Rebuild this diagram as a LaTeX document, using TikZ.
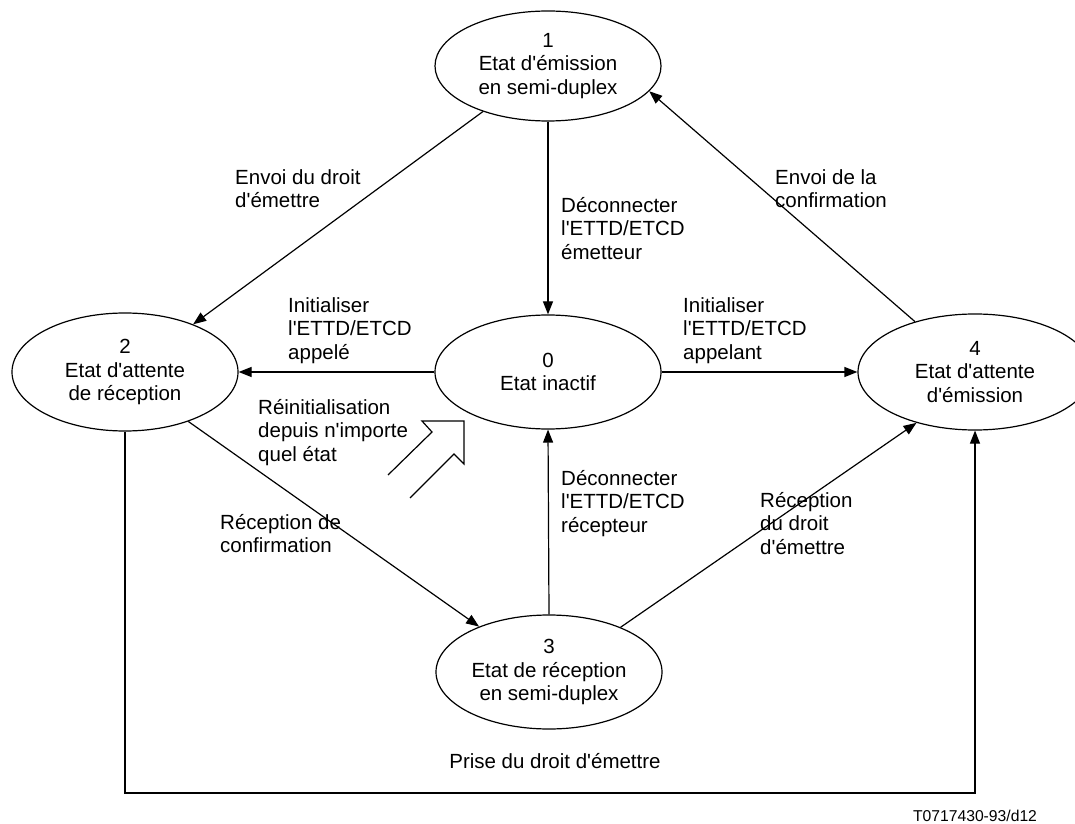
\documentclass[tikz,border=0pt]{standalone}
\usepackage{fontspec}
\setmainfont{Liberation Sans}[Ligatures=TeXOff]
\usetikzlibrary{arrows.meta,shapes.geometric}
\newcommand{\lblfont}{\fontsize{20.5}{23.6}\selectfont}
\newcommand{\capfont}{\fontsize{15.7}{18}\selectfont}
\begin{document}
\begin{tikzpicture}[x=1pt,y=1pt,
  state/.style={draw, ellipse, line width=1.2pt, minimum width=226pt, minimum height=114pt, inner sep=0pt, align=center, font=\lblfont},
  lbl/.style={anchor=north west, align=left, inner sep=0pt, font=\lblfont},
  conn/.style={line width=1.2pt, -{Triangle[length=13pt,width=10pt]}},
  plain/.style={line width=1.2pt},
]
\useasboundingbox (0,0) rectangle (1075,823);
\clip (0,0) rectangle (1075,823);

% states
\node[state, minimum height=110pt] (n1) at (548,757) {1\\Etat d'émission\\en semi-duplex};
\node[state] (n0) at (548,451) {0\\Etat inactif};
\node[state, minimum height=118pt] (n2) at (125,451) {2\\Etat d'attente\\de réception};
\node[state, minimum width=234pt, minimum height=116pt] (n4) at (975,451) {4\\Etat d'attente\\d'émission};
\node[state] (n3) at (549,151) {3\\Etat de réception\\en semi-duplex};

% connectors
\draw[conn] (n1.215) -- (n2.35);
\draw[conn] (n1.south) -- (n0.north);
\draw[conn] (n4.140) -- (n1.346);
\draw[conn] (n0.west) -- (n2.east);
\draw[conn] (n0.east) -- (n4.west);
\draw[conn] (n2.322) -- (n3.147);
\draw[conn] (n3.north) -- (n0.south);
\draw[conn] (n3.32) -- (n4.221);
\coordinate (bot) at (0,30);
\draw[conn] (n2.south) -- (n2.south |- bot) -- (n4.south |- bot) -- (n4.south);

% labels
\node[lbl] (l12) at (235,654) {Envoi du droit\\d'émettre};
\node[lbl] (l10) at (561,626) {Déconnecter\\l'ETTD/ETCD\\émetteur};
\node[lbl] (l41) at (775,654) {Envoi de la\\confirmation};
\node[lbl] (l02) at (288,526) {Initialiser\\l'ETTD/ETCD\\appelé};
\node[lbl] (l04) at (683,526) {Initialiser\\l'ETTD/ETCD\\appelant};
\node[lbl] (lre) at (258,424) {Réinitialisation\\depuis n'importe\\quel état};
\node[lbl] (l30) at (561,353) {Déconnecter\\l'ETTD/ETCD\\récepteur};
\node[lbl] (l23) at (220,309) {Réception de\\confirmation};
\node[lbl] (l34) at (760,331) {Réception\\du droit\\d'émettre};
\node[font=\lblfont, inner sep=0pt] (l24) at (555,62) {Prise du droit d'émettre};
\node[font=\capfont, inner sep=0pt] (cap) at (975,7) {T0717430-93/d12};

% reset arrow (hollow)
\draw[plain] (388,348) -- (432,391) -- (422,402) -- (464,402) -- (464,359) -- (454,369) -- (410,325);
\end{tikzpicture}
\end{document}
